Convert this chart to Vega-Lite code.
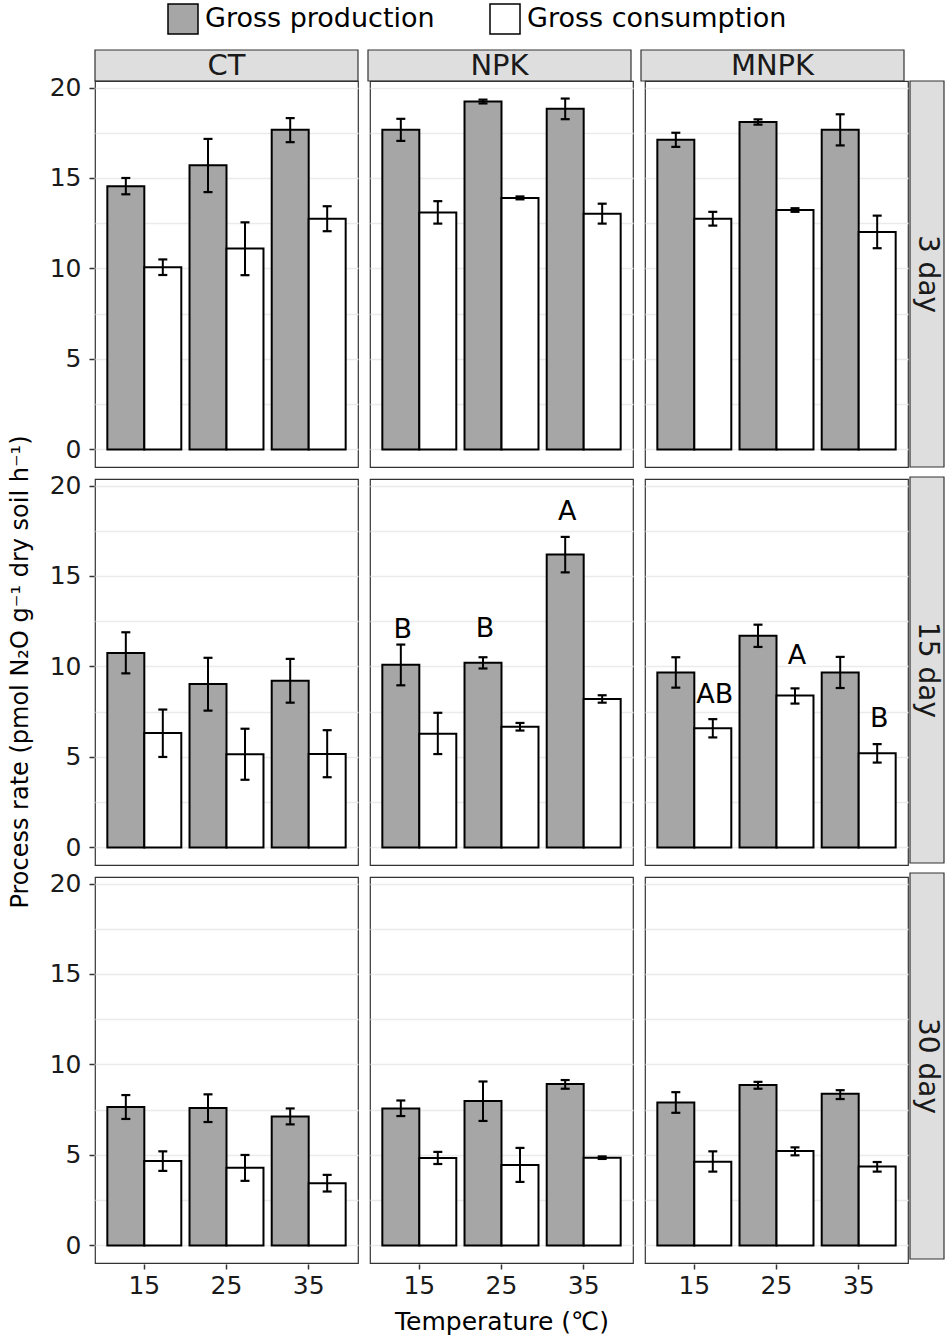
{
  "$schema": "https://vega.github.io/schema/vega-lite/v6.json",
  "background": "white",
  "padding": {"left": 8, "top": 3, "right": 0, "bottom": 0},
  "datasets": {
    "rates": [
      {"day": "3 day", "trt": "CT", "temp": 15, "type": "Gross production", "mean": 14.54, "lo": 14.1, "hi": 15.0},
      {"day": "3 day", "trt": "CT", "temp": 15, "type": "Gross consumption", "mean": 10.07, "lo": 9.64, "hi": 10.5},
      {"day": "3 day", "trt": "CT", "temp": 25, "type": "Gross production", "mean": 15.7, "lo": 14.22, "hi": 17.16},
      {"day": "3 day", "trt": "CT", "temp": 25, "type": "Gross consumption", "mean": 11.1, "lo": 9.63, "hi": 12.55},
      {"day": "3 day", "trt": "CT", "temp": 35, "type": "Gross production", "mean": 17.66, "lo": 16.98, "hi": 18.31},
      {"day": "3 day", "trt": "CT", "temp": 35, "type": "Gross consumption", "mean": 12.75, "lo": 12.06, "hi": 13.44},
      {"day": "3 day", "trt": "NPK", "temp": 15, "type": "Gross production", "mean": 17.66, "lo": 17.05, "hi": 18.27},
      {"day": "3 day", "trt": "NPK", "temp": 15, "type": "Gross consumption", "mean": 13.1, "lo": 12.48, "hi": 13.72},
      {"day": "3 day", "trt": "NPK", "temp": 25, "type": "Gross production", "mean": 19.23, "lo": 19.12, "hi": 19.33},
      {"day": "3 day", "trt": "NPK", "temp": 25, "type": "Gross consumption", "mean": 13.9, "lo": 13.82, "hi": 13.98},
      {"day": "3 day", "trt": "NPK", "temp": 35, "type": "Gross production", "mean": 18.82, "lo": 18.25, "hi": 19.39},
      {"day": "3 day", "trt": "NPK", "temp": 35, "type": "Gross consumption", "mean": 13.03, "lo": 12.48, "hi": 13.58},
      {"day": "3 day", "trt": "MNPK", "temp": 15, "type": "Gross production", "mean": 17.11, "lo": 16.72, "hi": 17.5},
      {"day": "3 day", "trt": "MNPK", "temp": 15, "type": "Gross consumption", "mean": 12.75, "lo": 12.37, "hi": 13.13},
      {"day": "3 day", "trt": "MNPK", "temp": 25, "type": "Gross production", "mean": 18.09, "lo": 17.95, "hi": 18.24},
      {"day": "3 day", "trt": "MNPK", "temp": 25, "type": "Gross consumption", "mean": 13.23, "lo": 13.13, "hi": 13.33},
      {"day": "3 day", "trt": "MNPK", "temp": 35, "type": "Gross production", "mean": 17.66, "lo": 16.8, "hi": 18.52},
      {"day": "3 day", "trt": "MNPK", "temp": 35, "type": "Gross consumption", "mean": 12.02, "lo": 11.12, "hi": 12.92},

      {"day": "15 day", "trt": "CT", "temp": 15, "type": "Gross production", "mean": 10.75, "lo": 9.62, "hi": 11.89},
      {"day": "15 day", "trt": "CT", "temp": 15, "type": "Gross consumption", "mean": 6.32, "lo": 5.0, "hi": 7.62},
      {"day": "15 day", "trt": "CT", "temp": 25, "type": "Gross production", "mean": 9.03, "lo": 7.56, "hi": 10.48},
      {"day": "15 day", "trt": "CT", "temp": 25, "type": "Gross consumption", "mean": 5.15, "lo": 3.74, "hi": 6.56},
      {"day": "15 day", "trt": "CT", "temp": 35, "type": "Gross production", "mean": 9.21, "lo": 8.0, "hi": 10.42},
      {"day": "15 day", "trt": "CT", "temp": 35, "type": "Gross consumption", "mean": 5.16, "lo": 3.88, "hi": 6.48},
      {"day": "15 day", "trt": "NPK", "temp": 15, "type": "Gross production", "mean": 10.09, "lo": 8.96, "hi": 11.21, "letter": "B", "letterAt": 12.03},
      {"day": "15 day", "trt": "NPK", "temp": 15, "type": "Gross consumption", "mean": 6.28, "lo": 5.16, "hi": 7.44},
      {"day": "15 day", "trt": "NPK", "temp": 25, "type": "Gross production", "mean": 10.2, "lo": 9.89, "hi": 10.51, "letter": "B", "letterAt": 12.09},
      {"day": "15 day", "trt": "NPK", "temp": 25, "type": "Gross consumption", "mean": 6.67, "lo": 6.46, "hi": 6.88},
      {"day": "15 day", "trt": "NPK", "temp": 35, "type": "Gross production", "mean": 16.19, "lo": 15.2, "hi": 17.16, "letter": "A", "letterAt": 18.53},
      {"day": "15 day", "trt": "NPK", "temp": 35, "type": "Gross consumption", "mean": 8.2, "lo": 8.0, "hi": 8.41},
      {"day": "15 day", "trt": "MNPK", "temp": 15, "type": "Gross production", "mean": 9.67, "lo": 8.83, "hi": 10.51},
      {"day": "15 day", "trt": "MNPK", "temp": 15, "type": "Gross consumption", "mean": 6.58, "lo": 6.08, "hi": 7.09, "letter": "AB", "letterAt": 8.41},
      {"day": "15 day", "trt": "MNPK", "temp": 25, "type": "Gross production", "mean": 11.7, "lo": 11.08, "hi": 12.31},
      {"day": "15 day", "trt": "MNPK", "temp": 25, "type": "Gross consumption", "mean": 8.39, "lo": 7.95, "hi": 8.79, "letter": "A", "letterAt": 10.57},
      {"day": "15 day", "trt": "MNPK", "temp": 35, "type": "Gross production", "mean": 9.67, "lo": 8.81, "hi": 10.53},
      {"day": "15 day", "trt": "MNPK", "temp": 35, "type": "Gross consumption", "mean": 5.2, "lo": 4.69, "hi": 5.71, "letter": "B", "letterAt": 7.09},

      {"day": "30 day", "trt": "CT", "temp": 15, "type": "Gross production", "mean": 7.65, "lo": 6.99, "hi": 8.31},
      {"day": "30 day", "trt": "CT", "temp": 15, "type": "Gross consumption", "mean": 4.67, "lo": 4.12, "hi": 5.2},
      {"day": "30 day", "trt": "CT", "temp": 25, "type": "Gross production", "mean": 7.59, "lo": 6.82, "hi": 8.35},
      {"day": "30 day", "trt": "CT", "temp": 25, "type": "Gross consumption", "mean": 4.3, "lo": 3.57, "hi": 5.0},
      {"day": "30 day", "trt": "CT", "temp": 35, "type": "Gross production", "mean": 7.13, "lo": 6.69, "hi": 7.57},
      {"day": "30 day", "trt": "CT", "temp": 35, "type": "Gross consumption", "mean": 3.44, "lo": 2.98, "hi": 3.9},
      {"day": "30 day", "trt": "NPK", "temp": 15, "type": "Gross production", "mean": 7.57, "lo": 7.15, "hi": 8.01},
      {"day": "30 day", "trt": "NPK", "temp": 15, "type": "Gross consumption", "mean": 4.83, "lo": 4.5, "hi": 5.17},
      {"day": "30 day", "trt": "NPK", "temp": 25, "type": "Gross production", "mean": 7.98, "lo": 6.88, "hi": 9.06},
      {"day": "30 day", "trt": "NPK", "temp": 25, "type": "Gross consumption", "mean": 4.45, "lo": 3.51, "hi": 5.39},
      {"day": "30 day", "trt": "NPK", "temp": 35, "type": "Gross production", "mean": 8.92, "lo": 8.66, "hi": 9.14},
      {"day": "30 day", "trt": "NPK", "temp": 35, "type": "Gross consumption", "mean": 4.85, "lo": 4.78, "hi": 4.92},
      {"day": "30 day", "trt": "MNPK", "temp": 15, "type": "Gross production", "mean": 7.9, "lo": 7.33, "hi": 8.47},
      {"day": "30 day", "trt": "MNPK", "temp": 15, "type": "Gross consumption", "mean": 4.63, "lo": 4.08, "hi": 5.2},
      {"day": "30 day", "trt": "MNPK", "temp": 25, "type": "Gross production", "mean": 8.86, "lo": 8.66, "hi": 9.04},
      {"day": "30 day", "trt": "MNPK", "temp": 25, "type": "Gross consumption", "mean": 5.22, "lo": 4.98, "hi": 5.42},
      {"day": "30 day", "trt": "MNPK", "temp": 35, "type": "Gross production", "mean": 8.38, "lo": 8.09, "hi": 8.58},
      {"day": "30 day", "trt": "MNPK", "temp": 35, "type": "Gross consumption", "mean": 4.36, "lo": 4.08, "hi": 4.61}
    ],
    "trts": [{"trt": "CT"}, {"trt": "NPK"}, {"trt": "MNPK"}],
    "days": [{"day": "3 day"}, {"day": "15 day"}, {"day": "30 day"}]
  },
  "config": {
    "font": "DejaVu Sans",
    "view": {"stroke": "#333333", "strokeWidth": 1.2},
    "axis": {
      "domain": false,
      "gridColor": "#ebebeb",
      "gridWidth": 1.3,
      "tickColor": "#333333",
      "tickWidth": 1.5,
      "tickSize": 5,
      "labelColor": "#1a1a1a",
      "labelFontSize": 25,
      "labelPadding": 4,
      "title": null
    },
    "header": {
      "titleColor": "#000000",
      "titleFontWeight": "normal"
    },
    "legend": {
      "labelFontSize": 27,
      "labelColor": "#000000",
      "labelLimit": 400,
      "symbolType": "square",
      "symbolSize": 900,
      "symbolStrokeColor": "#000000",
      "symbolStrokeWidth": 1.5,
      "layout": {"top": {"anchor": "middle"}}
    }
  },
  "bounds": "flush",
  "vconcat": [
    {
      "data": {"name": "trts"},
      "width": 809,
      "height": 31,
      "view": {"stroke": null},
      "layer": [
        {
          "mark": {"type": "rect", "fill": "#dedede", "stroke": "#333333", "strokeWidth": 1.2},
          "encoding": {
            "x": {"field": "trt", "type": "nominal", "sort": ["CT", "NPK", "MNPK"], "axis": null, "scale": {"paddingInner": 0.03663, "paddingOuter": 0}}
          }
        },
        {
          "mark": {"type": "text", "fontSize": 29, "color": "#1a1a1a", "baseline": "middle"},
          "encoding": {
            "x": {"field": "trt", "type": "nominal", "sort": ["CT", "NPK", "MNPK"], "axis": null, "scale": {"paddingInner": 0.03663, "paddingOuter": 0}},
            "text": {"field": "trt"}
          }
        }
      ]
    },
    {
      "hconcat": [
        {
          "data": {"name": "rates"},
          "facet": {
            "row": {"field": "day", "type": "nominal", "sort": ["3 day", "15 day", "30 day"],
                    "header": {"title": "Process rate (pmol N₂O g⁻¹ dry soil h⁻¹)", "labels": false, "titleOrient": "left", "titleFontSize": 24, "titlePadding": 6}},
            "column": {"field": "trt", "type": "nominal", "sort": ["CT", "NPK", "MNPK"],
                       "header": {"title": "Temperature (℃)", "labels": false, "titleOrient": "bottom", "titleFontSize": 25, "titlePadding": 2}}
          },
          "spacing": {"row": 10, "column": 10},
          "spec": {
            "width": 263,
            "height": 386,
            "layer": [
              {
                "mark": {"type": "bar", "stroke": "#000000", "strokeWidth": 2},
                "encoding": {
                  "x": {"field": "temp", "type": "ordinal",
                        "scale": {"paddingInner": 0.1, "paddingOuter": 0.15},
                        "axis": {"labelAngle": 0, "bandPosition": 0.5}},
                  "xOffset": {"field": "type", "type": "nominal", "sort": ["Gross production", "Gross consumption"], "scale": {"paddingInner": 0, "paddingOuter": 0}},
                  "y": {"field": "mean", "type": "quantitative",
                        "scale": {"domain": [-0.97, 20.36], "nice": false, "zero": false},
                        "axis": {"values": [0, 2.5, 5, 7.5, 10, 12.5, 15, 17.5, 20],
                                 "labelPadding": 8,
                                 "labelExpr": "datum.value % 5 === 0 ? datum.label : ''",
                                 "tickOpacity": {"condition": {"test": "datum.value % 5 !== 0", "value": 0}, "value": 1}}},
                  "y2": {"datum": 0},
                  "fill": {"field": "type", "type": "nominal", "sort": ["Gross production", "Gross consumption"],
                           "scale": {"domain": ["Gross production", "Gross consumption"], "range": ["#a6a6a6", "#ffffff"]},
                           "legend": {"title": null, "orient": "top", "direction": "horizontal", "columnPadding": 52, "labelOffset": 6, "offset": 12}}
                }
              },
              {
                "mark": {"type": "rule", "stroke": "#000000", "strokeWidth": 2},
                "encoding": {
                  "x": {"field": "temp", "type": "ordinal"},
                  "xOffset": {"field": "type", "type": "nominal", "sort": ["Gross production", "Gross consumption"]},
                  "y": {"field": "lo", "type": "quantitative"},
                  "y2": {"field": "hi"}
                }
              },
              {
                "mark": {"type": "tick", "color": "#000000", "size": 9, "thickness": 2.2, "opacity": 1},
                "encoding": {
                  "x": {"field": "temp", "type": "ordinal"},
                  "xOffset": {"field": "type", "type": "nominal", "sort": ["Gross production", "Gross consumption"]},
                  "y": {"field": "lo", "type": "quantitative"}
                }
              },
              {
                "mark": {"type": "tick", "color": "#000000", "size": 9, "thickness": 2.2, "opacity": 1},
                "encoding": {
                  "x": {"field": "temp", "type": "ordinal"},
                  "xOffset": {"field": "type", "type": "nominal", "sort": ["Gross production", "Gross consumption"]},
                  "y": {"field": "hi", "type": "quantitative"}
                }
              },
              {
                "transform": [{"filter": "isValid(datum.letter)"}],
                "mark": {"type": "text", "fontSize": 27, "color": "#000000", "baseline": "middle", "dx": 2},
                "encoding": {
                  "x": {"field": "temp", "type": "ordinal"},
                  "xOffset": {"field": "type", "type": "nominal", "sort": ["Gross production", "Gross consumption"]},
                  "y": {"field": "letterAt", "type": "quantitative"},
                  "text": {"field": "letter"}
                }
              }
            ]
          }
        },
        {
          "data": {"name": "days"},
          "width": 34,
          "height": 1178,
          "view": {"stroke": null},
          "layer": [
            {
              "mark": {"type": "rect", "fill": "#dedede", "stroke": "#333333", "strokeWidth": 1.2},
              "encoding": {
                "y": {"field": "day", "type": "nominal", "sort": ["3 day", "15 day", "30 day"], "axis": null, "scale": {"paddingInner": 0.025253, "paddingOuter": 0}}
              }
            },
            {
              "mark": {"type": "text", "fontSize": 28, "color": "#1a1a1a", "angle": 90, "baseline": "middle", "align": "center"},
              "encoding": {
                "y": {"field": "day", "type": "nominal", "sort": ["3 day", "15 day", "30 day"], "axis": null, "scale": {"paddingInner": 0.025253, "paddingOuter": 0}},
                "text": {"field": "day"}
              }
            }
          ]
        }
      ],
      "spacing": 0
    }
  ],
  "spacing": 0
}
